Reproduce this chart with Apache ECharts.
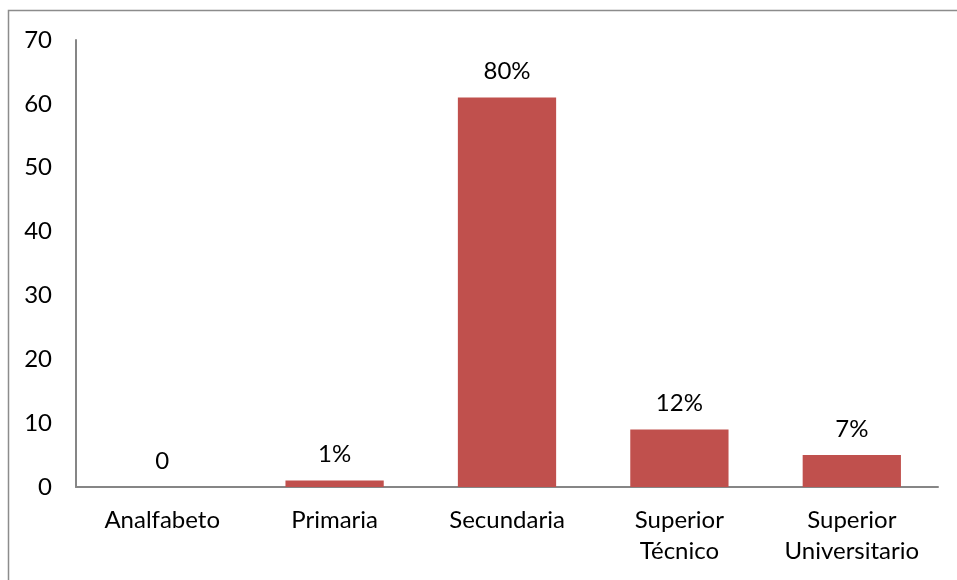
<!DOCTYPE html>
<html><head><meta charset="utf-8">
<script src="https://cdn.jsdelivr.net/npm/echarts@6/dist/echarts.min.js"></script>
<style>html,body{margin:0;padding:0;background:#fff}#c{width:957px;height:580px}</style>
</head><body><div id="c"></div>
<script>
var categories = ['Analfabeto', 'Primaria', 'Secundaria', 'Superior\nTécnico', 'Superior\nUniversitario'];
var values = [0, 1, 61, 9, 5];
var labels = ['0', '1%', '80%', '12%', '7%'];
var yTicks = {min: 0, max: 70, interval: 10};

var chart = echarts.init(document.getElementById('c'));
var font = 'Lato, "Open Sans", sans-serif';
chart.setOption({
  animation: false,
  graphic: [{type: 'rect', shape: {x: 8.5, y: 10.5, width: 1000, height: 1000}, style: {fill: 'none', stroke: '#8c8c8c', lineWidth: 1.5}, silent: true}],
  grid: {left: 76, right: 19, top: 40, bottom: 93},
  xAxis: {
    type: 'category', data: categories,
    axisLine: {lineStyle: {color: '#868686', width: 2}},
    axisTick: {show: false},
    axisLabel: {color: '#000', fontSize: 24, fontFamily: font, margin: 18, lineHeight: 31, interval: 0}
  },
  yAxis: {
    type: 'value', min: yTicks.min, max: yTicks.max, interval: yTicks.interval,
    axisLine: {show: true, lineStyle: {color: '#868686', width: 2}},
    axisTick: {show: false},
    splitLine: {show: false},
    axisLabel: {color: '#000', fontSize: 24, fontFamily: font, margin: 24}
  },
  series: [{
    type: 'bar', data: values, barWidth: '57%',
    itemStyle: {color: '#C0504D'},
    label: {show: true, position: 'top', distance: 14, color: '#000', fontSize: 24, fontFamily: font,
      formatter: function (p) { return labels[p.dataIndex]; }}
  }]
});
</script></body></html>
